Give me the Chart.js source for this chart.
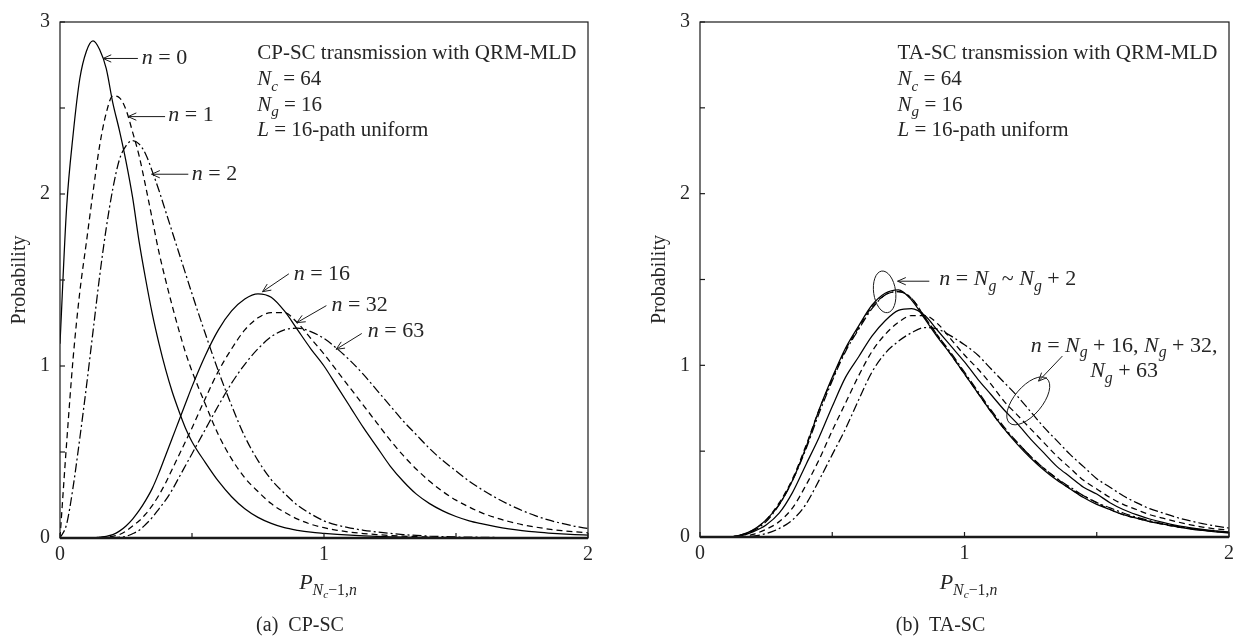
<!DOCTYPE html>
<html><head><meta charset="utf-8">
<script src="https://cdn.jsdelivr.net/npm/chart.js@4.4.1/dist/chart.umd.min.js"></script>
<style>
html,body{margin:0;padding:0;background:#fff;}
#wrap{position:relative;width:1242px;height:640px;overflow:hidden;}
canvas{position:absolute;top:0;}
</style></head><body>
<div id="wrap">
<canvas id="cA" width="640" height="640" style="left:0"></canvas>
<canvas id="cB" width="602" height="640" style="left:640px"></canvas>
</div>
<script>
// ---------- DATA ----------
const xLeft = [0,0.025,0.05,0.075,0.1,0.125,0.15,0.175,0.2,0.225,0.25,0.275,0.3,0.325,0.35,0.375,0.4,0.425,0.45,0.475,0.5,
  0.55,0.6,0.65,0.7,0.75,0.8,0.85,0.9,0.95,1.0,
  1.05,1.1,1.15,1.2,1.25,1.3,1.35,1.4,1.45,1.5,
  1.55,1.6,1.65,1.7,1.75,1.8,1.85,1.9,1.95,2.0];

const cpN0 = [1.13,1.92,2.35,2.67,2.83,2.89,2.84,2.73,2.53,2.37,2.19,1.98,1.72,1.5,1.3,1.13,0.98,0.85,0.74,0.64,0.56,
  0.44,0.33,0.24,0.17,0.12,0.085,0.06,0.045,0.034,0.027,
  0.021,0.016,0.012,0.009,0.007,0.005,0.004,0.003,0.002,0.002,
  0.001,0.001,0.001,0.001,0,0,0,0,0,0];
const cpN1 = [0,0.55,1.05,1.43,1.72,2.01,2.28,2.47,2.57,2.56,2.49,2.36,2.22,2.04,1.85,1.66,1.5,1.35,1.21,1.08,0.97,
  0.78,0.6,0.46,0.35,0.27,0.2,0.15,0.11,0.08,0.06,
  0.045,0.034,0.026,0.02,0.015,0.011,0.008,0.006,0.004,0.003,
  0.002,0.002,0.001,0.001,0.001,0,0,0,0,0];
const cpN2 = [0,0.08,0.3,0.58,0.88,1.2,1.52,1.8,2.03,2.2,2.28,2.31,2.29,2.23,2.13,2.02,1.9,1.78,1.66,1.54,1.42,
  1.19,0.97,0.77,0.59,0.45,0.34,0.26,0.19,0.14,0.1,
  0.075,0.058,0.045,0.035,0.027,0.02,0.015,0.011,0.008,0.006,
  0.005,0.004,0.003,0.002,0.002,0.001,0.001,0.001,0,0];
const cpN16 = [0,0,0,0,0,0,0.005,0.01,0.02,0.04,0.07,0.11,0.16,0.22,0.29,0.38,0.48,0.58,0.68,0.78,0.88,
  1.06,1.21,1.32,1.39,1.42,1.4,1.32,1.21,1.1,1.0,
  0.88,0.76,0.64,0.53,0.42,0.33,0.255,0.2,0.158,0.125,
  0.1,0.082,0.066,0.053,0.043,0.035,0.029,0.024,0.02,0.017];
const cpN32 = [0,0,0,0,0,0,0,0.005,0.01,0.02,0.04,0.07,0.1,0.14,0.19,0.25,0.32,0.4,0.48,0.56,0.64,
  0.81,0.97,1.1,1.21,1.28,1.31,1.31,1.25,1.16,1.07,
  0.97,0.87,0.77,0.67,0.57,0.48,0.4,0.33,0.27,0.22,
  0.18,0.145,0.118,0.096,0.078,0.064,0.052,0.043,0.036,0.03];
const cpN63 = [0,0,0,0,0,0,0,0,0,0.005,0.01,0.025,0.045,0.08,0.12,0.17,0.22,0.28,0.35,0.42,0.49,
  0.63,0.77,0.9,1.01,1.1,1.17,1.21,1.22,1.2,1.16,
  1.1,1.03,0.95,0.86,0.77,0.68,0.6,0.52,0.45,0.39,
  0.33,0.28,0.235,0.195,0.16,0.13,0.105,0.085,0.068,0.055];

const xRight = [0,0.05,0.1,0.15,0.2,0.25,0.3,0.35,0.4,0.45,0.5,0.55,0.6,0.65,0.7,0.75,0.8,0.85,0.9,0.95,1.0,
  1.05,1.1,1.15,1.2,1.25,1.3,1.35,1.4,1.45,1.5,1.55,1.6,1.65,1.7,1.75,1.8,1.85,1.9,1.95,2.0];
const taNg = [0,0,0,0.01,0.04,0.1,0.19,0.33,0.52,0.74,0.93,1.1,1.23,1.35,1.42,1.44,1.38,1.27,1.16,1.06,0.95,
  0.84,0.73,0.63,0.54,0.46,0.39,0.33,0.28,0.23,0.19,0.16,0.13,0.11,0.09,0.075,0.06,0.048,0.038,0.03,0.024];
const taNg1 = [0,0,0,0.01,0.04,0.1,0.2,0.34,0.53,0.74,0.92,1.09,1.22,1.34,1.41,1.43,1.39,1.28,1.17,1.06,0.95,
  0.84,0.73,0.63,0.55,0.47,0.4,0.34,0.28,0.24,0.2,0.16,0.13,0.11,0.09,0.075,0.06,0.05,0.04,0.032,0.026];
const taNg2 = [0,0,0,0.01,0.035,0.09,0.19,0.33,0.51,0.72,0.91,1.08,1.21,1.33,1.41,1.43,1.39,1.28,1.17,1.07,0.96,
  0.85,0.74,0.64,0.55,0.47,0.4,0.34,0.29,0.24,0.2,0.17,0.14,0.115,0.095,0.078,0.063,0.05,0.04,0.033,0.027];
const taNg16 = [0,0,0,0.005,0.03,0.07,0.14,0.26,0.42,0.58,0.76,0.93,1.05,1.17,1.26,1.32,1.33,1.29,1.2,1.11,1.02,
  0.92,0.83,0.74,0.66,0.57,0.49,0.41,0.35,0.29,0.25,0.2,0.16,0.13,0.105,0.085,0.068,0.055,0.044,0.036,0.03];
const taNg32 = [0,0,0,0,0.015,0.045,0.09,0.17,0.3,0.45,0.62,0.78,0.94,1.08,1.18,1.25,1.29,1.29,1.24,1.15,1.06,
  0.98,0.89,0.79,0.71,0.63,0.55,0.47,0.4,0.33,0.28,0.23,0.19,0.16,0.13,0.11,0.09,0.072,0.058,0.047,0.04];
const taNg63 = [0,0,0,0,0.005,0.02,0.05,0.1,0.19,0.33,0.48,0.63,0.8,0.96,1.07,1.14,1.19,1.22,1.21,1.17,1.12,
  1.06,0.98,0.9,0.82,0.73,0.64,0.56,0.48,0.41,0.34,0.29,0.24,0.2,0.165,0.14,0.115,0.095,0.078,0.064,0.052];

const xTickValues = [0,0.5,1,1.5,2];
const yTickValues = [0,0.5,1,1.5,2,2.5,3];

// ---------- STYLE ----------
const FONT = '"Liberation Serif","Times New Roman",serif';
const TXT = '#262626';
const SOLID = [], DASH = [6,4], DASHDOT = [9,3,2,3];
const ANN = 22;

function ds(xs, ys, dash) {
  return {data: xs.map((x,i)=>({x, y: ys[i]})), borderColor:'#000', borderWidth:1.25,
    borderDash: dash, pointRadius:0, fill:false, cubicInterpolationMode:'monotone'};
}

function fontFor(p, size) {
  const sz = p.s === 2 ? size*0.52 : p.s === 1 ? size*0.72 : size;
  return (p.i ? 'italic ' : '') + sz.toFixed(1) + 'px ' + FONT;
}
function richWidth(ctx, parts, size) {
  let w = 0;
  for (const p of parts) { ctx.font = fontFor(p, size); w += ctx.measureText(p.t).width; }
  return w;
}
function drawRich(ctx, x, y, parts, size) {
  let cx = x;
  ctx.textBaseline = 'alphabetic'; ctx.textAlign = 'left'; ctx.fillStyle = TXT;
  for (const p of parts) {
    ctx.font = fontFor(p, size);
    const dy = p.s === 2 ? size*0.42 : p.s === 1 ? size*0.26 : 0;
    ctx.fillText(p.t, cx, y + dy);
    cx += ctx.measureText(p.t).width;
  }
}
function arrow(ctx, x1, y1, x2, y2) {
  ctx.beginPath(); ctx.moveTo(x1,y1); ctx.lineTo(x2,y2); ctx.stroke();
  const ang = Math.atan2(y2-y1, x2-x1), L = 9, h = 0.42;
  ctx.beginPath();
  ctx.moveTo(x2 - L*Math.cos(ang-h), y2 - L*Math.sin(ang-h));
  ctx.lineTo(x2, y2);
  ctx.lineTo(x2 - L*Math.cos(ang+h), y2 - L*Math.sin(ang+h));
  ctx.stroke();
}

function overlay(cfg) {
  return {
    id: 'overlay',
    afterDraw(chart) {
      const {ctx, chartArea: a, scales: {x, y}} = chart;
      ctx.save();
      ctx.strokeStyle = '#1a1a1a'; ctx.setLineDash([]);
      ctx.lineWidth = 1.2;
      ctx.strokeRect(a.left, a.top, a.right - a.left, a.bottom - a.top);
      ctx.lineWidth = 2.4;
      ctx.beginPath(); ctx.moveTo(a.left, a.bottom); ctx.lineTo(a.right, a.bottom); ctx.stroke();
      ctx.lineWidth = 1.2;
      xTickValues.forEach(v => { const px = x.getPixelForValue(v);
        ctx.beginPath(); ctx.moveTo(px, a.bottom); ctx.lineTo(px, a.bottom - 5); ctx.stroke(); });
      yTickValues.forEach(v => { const py = y.getPixelForValue(v);
        ctx.beginPath(); ctx.moveTo(a.left, py); ctx.lineTo(a.left + 5, py); ctx.stroke(); });
      ctx.lineWidth = 1;
      (cfg.arrows||[]).forEach(ar => arrow(ctx, x.getPixelForValue(ar[0]), y.getPixelForValue(ar[1]),
        x.getPixelForValue(ar[2]), y.getPixelForValue(ar[3])));
      (cfg.ellipses||[]).forEach(e => {
        const cx = x.getPixelForValue(e.cx), cy = y.getPixelForValue(e.cy);
        ctx.beginPath(); ctx.ellipse(cx, cy, e.rx, e.ry, e.rot*Math.PI/180, 0, Math.PI*2); ctx.stroke();
      });
      (cfg.texts||[]).forEach(t => drawRich(ctx, x.getPixelForValue(t.x), y.getPixelForValue(t.y), t.parts, t.size||ANN));
      const tp = [{t:'P',i:1,s:0},{t:'N',i:1,s:1},{t:'c',i:1,s:2},{t:'\u22121,',s:1},{t:'n',i:1,s:1}];
      const w = richWidth(ctx, tp, 22);
      drawRich(ctx, x.getPixelForValue(1) + 4 - w/2, 589, tp, 22);
      ctx.font = '20px ' + FONT; ctx.textAlign = 'center'; ctx.fillStyle = TXT; ctx.textBaseline = 'alphabetic';
      ctx.fillText(cfg.caption, (a.left + a.right)/2 - 24, 631);
      ctx.restore();
    }
  };
}

function makeChart(id, xs, series, pad, xh, cfg) {
  return new Chart(document.getElementById(id), {
    type: 'line',
    data: { datasets: series.map(s => ds(xs, s[0], s[1])) },
    options: {
      responsive: false, animation: false, devicePixelRatio: 1,
      layout: { padding: pad },
      plugins: { legend: {display:false}, tooltip: {enabled:false} },
      scales: {
        x: { type:'linear', min:0, max:2,
          afterFit: s => { s.height = xh; },
          afterBuildTicks: s => { s.ticks = xTickValues.map(v => ({value:v})); },
          grid: {display:false, drawTicks:false}, border: {display:false},
          ticks: { padding: 5, maxRotation: 0, color: TXT, font: {family: FONT, size: 20},
            callback: v => Number.isInteger(v) ? String(v) : '' },
          title: {display:false} },
        y: { type:'linear', min:0, max:3,
          afterFit: s => { s.width = 60; },
          afterBuildTicks: s => { s.ticks = yTickValues.map(v => ({value:v})); },
          grid: {display:false, drawTicks:false}, border: {display:false},
          ticks: { padding: 10, color: TXT, font: {family: FONT, size: 20},
            callback: v => Number.isInteger(v) ? String(v) : '' },
          title: { display:true, text:'Probability', color: TXT, font:{family: FONT, size: 20}, padding:{top:8, bottom:0} } }
      }
    },
    plugins: [overlay(cfg)]
  });
}

const N = (sub) => [{t:'N',i:1,s:0},{t:sub,i:1,s:1}];
const head = (title) => [
  {x:0.747, y:2.784, size:21, parts:[{t:title}]},
  {x:0.747, y:2.631, size:21, parts:[...N('c'),{t:' = 64'}]},
  {x:0.747, y:2.483, size:21, parts:[...N('g'),{t:' = 16'}]},
  {x:0.747, y:2.335, size:21, parts:[{t:'L',i:1},{t:' = 16-path uniform'}]}
];
const nEq = (v) => [{t:'n',i:1},{t:' = ' + v}];

makeChart('cA', xLeft,
  [[cpN0,SOLID],[cpN1,DASH],[cpN2,DASHDOT],[cpN16,SOLID],[cpN32,DASH],[cpN63,DASHDOT]],
  {top:10, right:52, left:0, bottom:0}, 102,
  { caption: '(a)  CP-SC',
    texts: [...head('CP-SC transmission with QRM-MLD'),
      {x:0.31, y:2.754, parts:nEq('0')},
      {x:0.41, y:2.422, parts:nEq('1')},
      {x:0.499, y:2.081, parts:nEq('2')},
      {x:0.885, y:1.50, parts:nEq('16')},
      {x:1.028, y:1.32, parts:nEq('32')},
      {x:1.166, y:1.166, parts:nEq('63')}],
    arrows: [[0.295,2.788,0.163,2.788],[0.398,2.45,0.258,2.45],[0.486,2.115,0.347,2.115],
      [0.867,1.536,0.767,1.432],[1.009,1.351,0.897,1.252],[1.143,1.189,1.046,1.097]] });

makeChart('cB', xRight,
  [[taNg,SOLID],[taNg1,DASH],[taNg2,DASHDOT],[taNg16,SOLID],[taNg32,DASH],[taNg63,DASHDOT]],
  {top:9, right:13, left:0, bottom:0}, 103,
  { caption: '(b)  TA-SC',
    texts: [...head('TA-SC transmission with QRM-MLD'),
      {x:0.905, y:1.468, parts:[{t:'n',i:1},{t:' = '},...N('g'),{t:' ~ '},...N('g'),{t:' + 2'}]},
      {x:1.25, y:1.08, parts:[{t:'n',i:1},{t:' = '},...N('g'),{t:' + 16, '},...N('g'),{t:' + 32,'}]},
      {x:1.475, y:0.93, parts:[...N('g'),{t:' + 63'}]}],
    arrows: [[0.867,1.49,0.747,1.49],[1.37,1.054,1.28,0.908]],
    ellipses: [{cx:0.698, cy:1.428, rx:11, ry:21, rot:-8},{cx:1.241, cy:0.793, rx:29, ry:14, rot:-50}] });
</script>
</body></html>
